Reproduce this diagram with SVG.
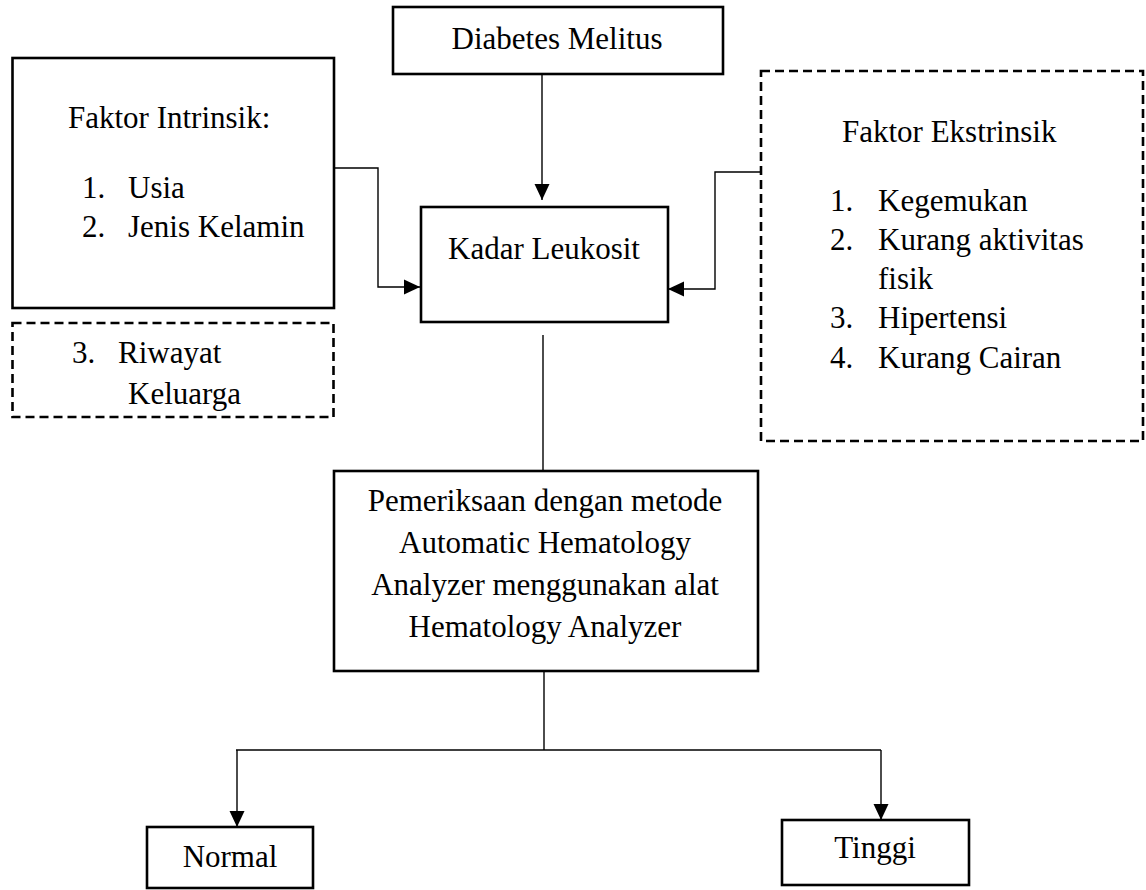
<svg xmlns="http://www.w3.org/2000/svg" width="1146" height="890" viewBox="0 0 1146 890">
<style>
.box{fill:#fff;stroke:#000;stroke-width:2.6}
.dash{fill:none;stroke:#000;stroke-width:2.6;stroke-dasharray:9 5}
.con{fill:none;stroke:#000;stroke-width:1.4}
.c{text-anchor:middle}
</style>
<defs>
<marker id="arr" markerUnits="userSpaceOnUse" markerWidth="16" markerHeight="16" refX="16" refY="8" orient="auto">
<path d="M0,0.5 L16,8 L0,15.5 z" fill="#000"/>
</marker>
</defs>
<rect width="1146" height="890" fill="#fff"/>
<g id="connectors">
<line class="con" x1="542" y1="74" x2="542" y2="200" marker-end="url(#arr)"/>
<polyline class="con" points="334,168 378,168 378,287 420,287" marker-end="url(#arr)"/>
<polyline class="con" points="761,172 715,172 715,289 668,289" marker-end="url(#arr)"/>
<line class="con" x1="543" y1="335" x2="543" y2="471"/>
<line class="con" x1="544" y1="671" x2="544" y2="750"/>
<line class="con" x1="236" y1="750" x2="881" y2="750"/>
<line class="con" x1="237" y1="750" x2="237" y2="827" marker-end="url(#arr)"/>
<line class="con" x1="881" y1="750" x2="881" y2="820" marker-end="url(#arr)"/>
</g>
<g font-family="'Liberation Serif', serif" font-size="31" fill="#000">
<g id="diabetes">
<rect class="box" x="393" y="7" width="330" height="67"/>
<text x="557" y="49" class="c">Diabetes Melitus</text>
</g>
<g id="intrinsik">
<rect class="box" x="12.5" y="58" width="321.5" height="250"/>
<text x="68" y="128">Faktor Intrinsik:</text>
<text x="82" y="198">1.</text><text x="128" y="198">Usia</text>
<text x="82" y="237">2.</text><text x="128" y="237">Jenis Kelamin</text>
</g>
<g id="riwayat">
<rect class="dash" x="12.5" y="323" width="321" height="94"/>
<text x="72" y="363">3.</text><text x="118" y="363">Riwayat</text>
<text x="128" y="404">Keluarga</text>
</g>
<g id="kadar">
<rect class="box" x="421" y="207" width="247" height="115"/>
<text x="544" y="259" class="c">Kadar Leukosit</text>
</g>
<g id="ekstrinsik">
<rect class="dash" x="761" y="71" width="382" height="370"/>
<text x="842" y="142">Faktor Ekstrinsik</text>
<text x="830" y="211">1.</text><text x="878" y="211">Kegemukan</text>
<text x="830" y="250">2.</text><text x="878" y="250">Kurang aktivitas</text>
<text x="878" y="289">fisik</text>
<text x="830" y="328">3.</text><text x="878" y="328">Hipertensi</text>
<text x="830" y="368">4.</text><text x="878" y="368">Kurang Cairan</text>
</g>
<g id="pemeriksaan">
<rect class="box" x="334" y="471" width="424" height="200"/>
<text x="545" y="511" class="c">Pemeriksaan dengan metode</text>
<text x="545" y="553" class="c">Automatic Hematology</text>
<text x="545" y="595" class="c">Analyzer menggunakan alat</text>
<text x="545" y="637" class="c">Hematology Analyzer</text>
</g>
<g id="normal">
<rect class="box" x="147" y="827" width="166" height="61"/>
<text x="230" y="867" class="c">Normal</text>
</g>
<g id="tinggi">
<rect class="box" x="782" y="820" width="187" height="65"/>
<text x="875" y="858" class="c">Tinggi</text>
</g>
</g>
</svg>
